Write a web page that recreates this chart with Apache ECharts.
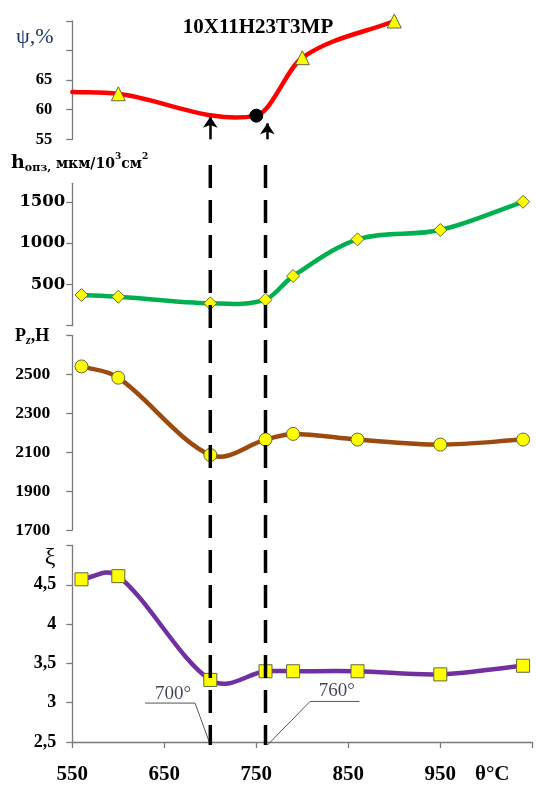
<!DOCTYPE html>
<html>
<head>
<meta charset="utf-8">
<script src="https://cdn.jsdelivr.net/npm/echarts@6/dist/echarts.min.js"></script>
<style>
  html, body { margin: 0; padding: 0; background: #fff; }
  #chart { width: 536px; height: 785px; }
</style>
</head>
<body>
<div id="chart"></div>
<script>
// Temperature points (°C) shared by the three lower curves
const temps = [560, 600, 700, 760, 790, 860, 950, 1040];
// Wear h_опз, мкм/10³см²
const hValues = [372, 351, 271, 315, 602, 1046, 1159, 1501];
// Cutting force Pz, H
const pzValues = [2541, 2483, 2086, 2165, 2194, 2165, 2139, 2165];
// Chip shrinkage ξ
const xiValues = [4.57, 4.61, 3.29, 3.40, 3.40, 3.40, 3.36, 3.47];
// Reduction of area ψ, %
const psiTemps = [550, 600, 750, 800, 900];
const psiValues = [63.0, 62.7, 59.0, 68.8, 75.0];

// Axis ticks and labels
const xTicks = [550, 650, 750, 850, 950, 1050];
const xLabels = [550, 650, 750, 850, 950];
const psiTicks = [55, 60, 65, 70, 75];
const psiLabels = [55, 60, 65];
const hTicks = [0, 500, 1000, 1500];
const hLabels = [500, 1000, 1500];
const pzTicks = [1700, 1900, 2100, 2300, 2500, 2700];
const pzLabels = [1700, 1900, 2100, 2300, 2500];
const xiTicks = [2.5, 3, 3.5, 4, 4.5, 5];
const xiLabels = [2.5, 3, 3.5, 4, 4.5];

// Critical temperatures and their callouts
const critTemps = [700, 760];
const callout700 = [[629, 2.995], [683.4, 2.995], [698.9, 2.5]];
const callout760 = [[862, 3.016], [808.4, 3.016], [762, 2.46]];
const calloutText = [[659.5, 3.115, '700°'], [837.4, 3.148, '760°']];
// ψ arrows: [temperature, from, to]
const psiArrows = [[700, 55, 58.8], [762, 55, 57.7]];

const SERIF = '"Liberation Serif", "Times New Roman", serif';
const AXIS_COLOR = '#7a7a7a';
const MARK_BORDER = '#66663a';

const chart = echarts.init(document.getElementById('chart'), null, { renderer: 'canvas' });

const gridLeft = 72.3, gridWidth = 460;
const grids = [
  { left: gridLeft, width: gridWidth, top: 21, height: 118.3 },
  { left: gridLeft, width: gridWidth, top: 183.3, height: 142.4 },
  { left: gridLeft, width: gridWidth, top: 335.5, height: 194.5 },
  { left: gridLeft, width: gridWidth, top: 545.5, height: 199.5 },
  // overlay spanning the three lower panels, used for the dashed guides
  { left: gridLeft, width: gridWidth, top: 165, height: 580 }
];

function xAxisFor(i, visible) {
  return {
    type: 'value', gridIndex: i, min: 550, max: 1050, show: visible,
    axisLine: { show: true, lineStyle: { color: AXIS_COLOR, width: 1.3 } },
    axisTick: { show: true, length: 6, customValues: xTicks, lineStyle: { color: AXIS_COLOR, width: 1.3 } },
    axisLabel: {
      show: true, customValues: xLabels, margin: 22,
      color: '#000', fontFamily: SERIF, fontWeight: 'bold', fontSize: 21
    },
    splitLine: { show: false }
  };
}

function yAxisFor(i, min, max, ticks, labels, labelOpts, fmt) {
  return {
    type: 'value', gridIndex: i, min: min, max: max,
    axisLine: { show: true, onZero: false, lineStyle: { color: AXIS_COLOR, width: 1.3 } },
    axisTick: { show: true, length: 6, customValues: ticks, lineStyle: { color: AXIS_COLOR, width: 1.3 } },
    axisLabel: Object.assign({
      show: true, customValues: labels, color: '#000', fontWeight: 'bold',
      fontFamily: SERIF, formatter: fmt || (v => String(v))
    }, labelOpts),
    splitLine: { show: false }
  };
}

const pairs = (xs, ys) => xs.map((x, i) => [x, ys[i]]);

// Smooth curve through projected points: cubic Hermite segments in x,
// tangent at each inner point taken from its two neighbours.
function splinePath(pts) {
  const n = pts.length;
  const slope = i => {
    if (i === 0) return (pts[1][1] - pts[0][1]) / (pts[1][0] - pts[0][0]);
    if (i === n - 1) return (pts[n - 1][1] - pts[n - 2][1]) / (pts[n - 1][0] - pts[n - 2][0]);
    return (pts[i + 1][1] - pts[i - 1][1]) / (pts[i + 1][0] - pts[i - 1][0]);
  };
  let d = 'M' + pts[0][0] + ',' + pts[0][1];
  for (let i = 0; i < n - 1; i++) {
    const p1 = pts[i], p2 = pts[i + 1];
    const h = (p2[0] - p1[0]) / 3;
    const m1 = slope(i), m2 = slope(i + 1);
    d += ' C' + (p1[0] + h) + ',' + (p1[1] + m1 * h) + ' ' +
         (p2[0] - h) + ',' + (p2[1] - m2 * h) + ' ' + p2[0] + ',' + p2[1];
  }
  return d;
}

function curveSeries(name, axisIdx, data, color) {
  return {
    name: name + '-curve', type: 'custom', xAxisIndex: axisIdx, yAxisIndex: axisIdx,
    data: data, silent: true, clip: false, z: 2,
    encode: { x: 0, y: 1 },
    renderItem: (params, api) => {
      if (params.dataIndex !== 0) return null;
      const pts = data.map(p => api.coord(p));
      return {
        type: 'path',
        shape: { pathData: splinePath(pts) },
        style: { fill: 'none', stroke: color, lineWidth: 4.5, lineCap: 'round', lineJoin: 'round' }
      };
    }
  };
}

function markerSeries(name, axisIdx, data, symbol, size) {
  return {
    name: name, type: 'scatter', xAxisIndex: axisIdx, yAxisIndex: axisIdx,
    data: data, symbol: symbol, symbolSize: size, z: 3,
    itemStyle: { color: '#ffff00', borderColor: MARK_BORDER, borderWidth: 1, opacity: 1 }
  };
}

const psiPairs = pairs(psiTemps, psiValues);
const hPairs = pairs(temps, hValues);
const pzPairs = pairs(temps, pzValues);
const xiPairs = pairs(temps, xiValues);

const psiMarkers = psiPairs.map((p, i) => {
  if (i === 0) return { value: p, symbol: 'none' };
  if (psiTemps[i] === 750) return { value: p, symbol: 'circle', symbolSize: 13, itemStyle: { color: '#000', borderColor: '#000' } };
  return { value: p };
});

const guideSeries = critTemps.map(t => ({
  name: 'guide' + t, type: 'line', xAxisIndex: 4, yAxisIndex: 4,
  data: [[t, 1], [t, 0]], symbol: 'none', silent: true, z: 4,
  lineStyle: { color: '#000', width: 3.5, type: [23, 12] }
}));

const psiMarkerSeries = markerSeries('ψ', 0, psiMarkers, 'triangle', 14);
psiMarkerSeries.markLine = {
  silent: true, symbol: ['none', 'arrow'], symbolSize: 11,
  label: { show: false },
  lineStyle: { color: '#000', width: 2.5, type: 'solid' },
  itemStyle: { color: '#000' },
  data: psiArrows.map(a => [{ coord: [a[0], a[1]] }, { coord: [a[0], a[2]] }])
};

const option = {
  animation: false,
  grid: grids,
  xAxis: [xAxisFor(0, false), xAxisFor(1, false), xAxisFor(2, false), xAxisFor(3, true), xAxisFor(4, false)],
  yAxis: [
    yAxisFor(0, 55, 75, psiTicks, psiLabels, { fontSize: 16.5, margin: 20 }),
    yAxisFor(1, 0, 1725, hTicks, hLabels, { fontSize: 16.5, margin: 7, fontFamily: '"DejaVu Serif", serif' }),
    yAxisFor(2, 1700, 2700, pzTicks, pzLabels, { fontSize: 17.5, margin: 22 }),
    yAxisFor(3, 2.5, 5, xiTicks, xiLabels, { fontSize: 18, margin: 16 }, v => String(v).replace('.', ',')),
    { type: 'value', gridIndex: 4, min: 0, max: 1, show: false }
  ],
  series: [
    curveSeries('ψ', 0, psiPairs, '#ff0000'),
    curveSeries('h', 1, hPairs, '#00b050'),
    curveSeries('Pz', 2, pzPairs, '#9c4a0e'),
    curveSeries('ξ', 3, xiPairs, '#7030a0'),
    psiMarkerSeries,
    markerSeries('h', 1, hPairs, 'diamond', 13),
    markerSeries('Pz', 2, pzPairs, 'circle', 13),
    markerSeries('ξ', 3, xiPairs, 'rect', 13),
    ...guideSeries,
    {
      name: 'callout700', type: 'line', xAxisIndex: 3, yAxisIndex: 3,
      data: callout700, symbol: 'none', silent: true, clip: false,
      lineStyle: { color: '#555', width: 1 }
    },
    {
      name: 'callout760', type: 'line', xAxisIndex: 3, yAxisIndex: 3,
      data: callout760, symbol: 'none', silent: true, clip: false,
      lineStyle: { color: '#555', width: 1 }
    },
    {
      name: 'calloutText', type: 'scatter', xAxisIndex: 3, yAxisIndex: 3,
      data: calloutText.map(c => ({ value: [c[0], c[1]], name: c[2] })),
      symbolSize: 0, itemStyle: { color: 'rgba(0,0,0,0)' }, silent: true,
      label: {
        show: true, position: 'inside', formatter: p => p.name,
        color: '#141a30', fontFamily: SERIF, fontSize: 19
      }
    }
  ],
  graphic: [
    {
      type: 'text', x: 258, y: 28, silent: true,
      style: {
        text: '10X11H23T3MP', font: 'bold 21px ' + SERIF, fill: '#000',
        align: 'center', verticalAlign: 'middle', textAlign: 'center', textVerticalAlign: 'middle'
      }
    },
    {
      type: 'text', x: 16, y: 37, silent: true,
      style: {
        text: 'ψ,%', font: '22px ' + SERIF, fill: '#1f3864',
        verticalAlign: 'middle', textVerticalAlign: 'middle'
      }
    },
    {
      type: 'text', x: 11, y: 163, silent: true,
      style: {
        text: '{h|h}{s|опз,}{u| мкм/10}{p|3}{u|см}{p|2}',
        verticalAlign: 'middle', textVerticalAlign: 'middle', fill: '#000',
        rich: {
          h: { font: 'bold 19px "DejaVu Serif"', lineHeight: 22, verticalAlign: 'middle' },
          s: { font: 'bold 11px "DejaVu Serif"', lineHeight: 12, verticalAlign: 'bottom' },
          u: { font: 'bold 14px "DejaVu Serif"', lineHeight: 22, verticalAlign: 'middle', padding: [3, 0, 0, 0] },
          p: { font: 'bold 9px "DejaVu Serif"', lineHeight: 12, verticalAlign: 'top' }
        }
      }
    },
    {
      type: 'text', x: 15, y: 336, silent: true,
      style: {
        text: '{p|P}{z|z}{p|,H}',
        verticalAlign: 'middle', textVerticalAlign: 'middle', fill: '#000',
        rich: {
          p: { font: 'bold 18px ' + SERIF, lineHeight: 22, verticalAlign: 'middle' },
          z: { font: 'italic bold 12px ' + SERIF, lineHeight: 12, verticalAlign: 'bottom' }
        }
      }
    },
    {
      type: 'text', x: 50, y: 558, silent: true,
      style: {
        text: 'ξ', font: '24px ' + SERIF, fill: '#000',
        align: 'center', verticalAlign: 'middle', textAlign: 'center', textVerticalAlign: 'middle'
      }
    },
    {
      type: 'text', x: 475, y: 775, silent: true,
      style: {
        text: 'θ°C', font: 'bold 21px ' + SERIF, fill: '#000',
        verticalAlign: 'middle', textVerticalAlign: 'middle'
      }
    }
  ]
};

chart.setOption(option);
</script>
</body>
</html>
